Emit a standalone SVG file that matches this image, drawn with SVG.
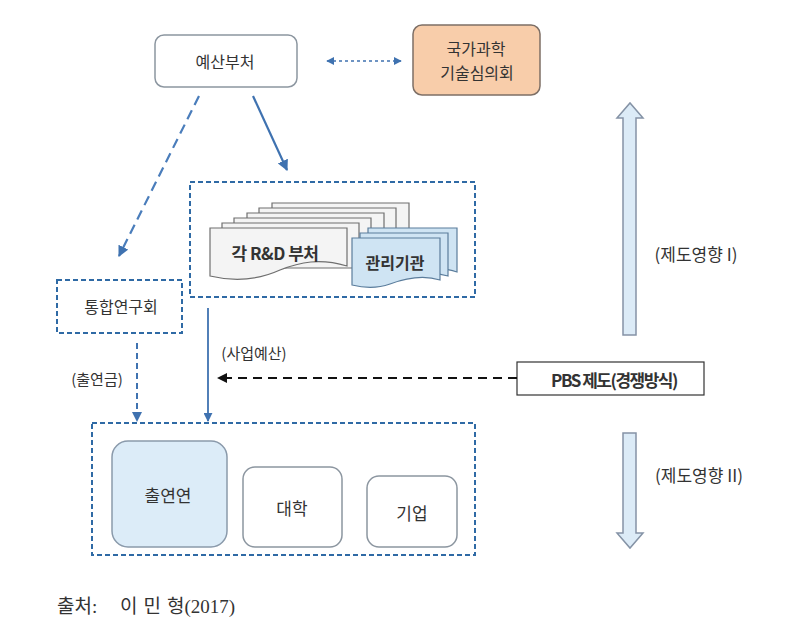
<svg xmlns="http://www.w3.org/2000/svg" width="789" height="635" viewBox="0 0 789 635">
<defs>
<marker id="ab" viewBox="0 0 10 10" refX="9" refY="5" markerWidth="5" markerHeight="5" orient="auto-start-reverse" markerUnits="strokeWidth"><path d="M0,0 L10,5 L0,10 z" fill="#3f72b0"/></marker>
<marker id="ab2" viewBox="0 0 10 10" refX="9" refY="5" markerWidth="8" markerHeight="8" orient="auto-start-reverse" markerUnits="userSpaceOnUse"><path d="M0,0 L10,5 L0,10 z" fill="#3f72b0"/></marker>
<marker id="ak" viewBox="0 0 10 10" refX="9" refY="5" markerWidth="12" markerHeight="10" orient="auto" markerUnits="userSpaceOnUse"><path d="M0,0 L10,5 L0,10 z" fill="#111"/></marker>
<style>
text{font-family:"Noto Sans CJK KR","Noto Sans",sans-serif;fill:#333;text-anchor:middle;dominant-baseline:central}
.dbox{fill:none;stroke:#2f6aa5;stroke-width:2;stroke-dasharray:5 3}
.wbox{fill:#fff;stroke:#8c96a0;stroke-width:1.5}
.page{fill:#f4f4f4;stroke:#6f6f6f;stroke-width:1.2}
.bpage{fill:#cfe4f3;stroke:#5b7d9c;stroke-width:1.2}
.big{fill:#dcecf8;stroke:#8a9aab;stroke-width:1.5}
</style>
</defs>
<rect width="789" height="635" fill="#fff"/>

<g id="node-budget">
<rect x="155" y="35" width="142" height="52" rx="9" class="wbox"/>
<text x="225" y="61" font-size="16">예산부처</text>
</g>

<g id="node-council">
<rect x="413" y="25" width="127" height="70" rx="9" fill="#f8cdaa" stroke="#7d6f66" stroke-width="1.5"/>
<text x="476" y="48" font-size="16">국가과학</text>
<text x="477" y="72" font-size="16">기술심의회</text>
</g>

<g id="node-ministries">
<rect x="190" y="182" width="285" height="115" class="dbox"/>
<path d="M272,203 H409 V255 H272 Z" class="page"/>
<path d="M259,208 H396 V258 H259 Z" class="page"/>
<path d="M247,213 H384 V262 H247 Z" class="page"/>
<path d="M234,218 H371 V265 H234 Z" class="page"/>
<path d="M222,223 H359 V268 H222 Z" class="page"/>
<path d="M210,228 H347 V266 C320,258 300,262 280,270 C258,280 235,282 210,276 Z" class="page"/>
<text x="275" y="252" font-size="17" font-weight="bold" letter-spacing="-0.5" fill="#2a2a2a">각 R&amp;D 부처</text>
<path d="M368,228 H457 V272 C440,266 420,270 405,275 H368 Z" class="bpage"/>
<path d="M360,233 H448 V276 C432,271 414,274 398,279 H360 Z" class="bpage"/>
<path d="M352,238 H440 V280 C424,275 406,278 390,284 C376,289 364,288 352,285 Z" class="bpage"/>
<text x="395" y="262" font-size="16" font-weight="bold" fill="#2a2a2a">관리기관</text>
</g>

<g id="node-nst">
<rect x="57" y="280" width="125" height="53" class="dbox"/>
<text x="121" y="306" font-size="16">통합연구회</text>
</g>

<g id="node-pbs">
<rect x="517" y="362" width="187" height="33" fill="#fff" stroke="#333" stroke-width="1.2"/>
<text x="614" y="379" font-size="17" font-weight="bold" letter-spacing="-1.5" fill="#222">PBS 제도(경쟁방식)</text>
</g>

<g id="node-performers">
<rect x="92" y="423" width="383" height="132" class="dbox"/>
<rect x="112" y="441" width="115" height="106" rx="16" class="big"/>
<text x="168" y="494" font-size="17">출연연</text>
<rect x="243" y="467" width="99" height="80" rx="12" class="wbox"/>
<text x="292" y="507" font-size="17">대학</text>
<rect x="367" y="476" width="90" height="71" rx="12" class="wbox"/>
<text x="412" y="512" font-size="17">기업</text>
</g>

<g id="node-influence1">
<path d="M623,335 V118 H617 L630,103 L643,118 H636 V335 Z" fill="#dcebf7" stroke="#8593a6" stroke-width="1.5"/>
<text x="696" y="253" font-size="17">(제도영향 I)</text>
</g>

<g id="node-influence2">
<path d="M623,433 V533 H617 L630,548 L643,533 H636 V433 Z" fill="#dcebf7" stroke="#8593a6" stroke-width="1.5"/>
<text x="699" y="474" font-size="17">(제도영향 II)</text>
</g>

<g id="connectors">
<line x1="327" y1="61" x2="401" y2="61" stroke="#3f72b0" stroke-width="1.5" stroke-dasharray="3 3" marker-start="url(#ab2)" marker-end="url(#ab2)"/>
<line x1="199" y1="96" x2="119" y2="256" stroke="#4a7dbb" stroke-width="2.2" stroke-dasharray="10 6" marker-end="url(#ab)"/>
<line x1="253" y1="96" x2="287" y2="170" stroke="#3f72b0" stroke-width="2.2" marker-end="url(#ab)"/>
<line x1="137" y1="343" x2="137" y2="421" stroke="#3f72b0" stroke-width="2" stroke-dasharray="6 4" marker-end="url(#ab)"/>
<line x1="208" y1="308" x2="208" y2="421" stroke="#3f72b0" stroke-width="1.8" marker-end="url(#ab)"/>
<line x1="517" y1="378" x2="218" y2="378" stroke="#111" stroke-width="2" stroke-dasharray="9 6" marker-end="url(#ak)"/>
<text x="254" y="352" font-size="15">(사업예산)</text>
<text x="97" y="378" font-size="15">(출연금)</text>
</g>

<text y="606" font-size="19" fill="#111" style="text-anchor:start;font-family:'Liberation Serif','Noto Sans CJK KR',serif"><tspan x="57">출처:</tspan><tspan x="120" letter-spacing="6">이민</tspan><tspan letter-spacing="0">형(2017)</tspan></text>
</svg>
